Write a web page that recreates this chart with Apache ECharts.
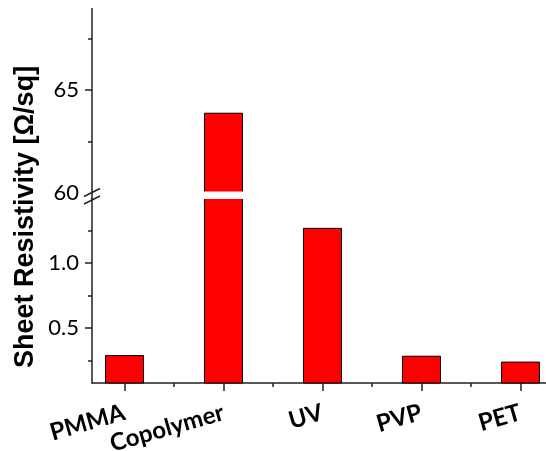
<!DOCTYPE html>
<html>
<head>
<meta charset="utf-8">
<script src="https://cdn.jsdelivr.net/npm/echarts@6/dist/echarts.min.js"></script>
<style>html,body{margin:0;padding:0;background:#fff}#c{width:546px;height:451px}</style>
</head>
<body>
<div id="c"></div>
<script>
const categories = ['PMMA', 'Copolymer', 'UV', 'PVP', 'PET'];
const resistivity = [0.29, 63.9, 1.27, 0.285, 0.24];
const upperRange = [60, 69];
const lowerRange = [0.075, 1.5];
const upperLabels = [60, 65];
const upperMajorTicks = [65];
const upperMinorTicks = [62.5, 67.5];
const lowerLabels = [0.5, 1.0];
const lowerMinorTicks = [0.25, 0.75, 1.25];
const yTitle = 'Sheet Resistivity [Ω/sq]';

const positions = categories.map((c, i) => i + 1);
const xMinorTicks = positions.slice(0, -1).map(p => p + 0.5);
const xMin = 0.672, xMax = 5.258;
const AX = '#222';

const lowerData = positions.map((p, i) => [p, resistivity[i]]);
const upperData = positions.map((p, i) => [p, resistivity[i] >= upperRange[0] ? resistivity[i] : null]);

const chart = echarts.init(document.getElementById('c'), null, {renderer: 'canvas'});
const tickFont = {fontFamily: 'Lato', fontSize: 22, color: '#000'};
const baseX = (gi) => ({type: 'value', gridIndex: gi, min: xMin, max: xMax, splitLine: {show: false}});
chart.setOption({
  animation: false,
  backgroundColor: '#fff',
  grid: [
    {left: 92, right: 0, top: 8.4, height: 184.1, outerBoundsMode: 'none', containLabel: false},
    {left: 92, right: 0, top: 198, height: 185, outerBoundsMode: 'none', containLabel: false}
  ],
  xAxis: [
    Object.assign(baseX(0), {show: false}),
    Object.assign(baseX(1), {
      position: 'bottom',
      axisLine: {show: true, lineStyle: {color: AX, width: 1.5}},
      axisTick: {show: true, customValues: positions, length: 8, inside: false, lineStyle: {color: AX, width: 1.5}},
      axisLabel: {show: true, customValues: positions, formatter: v => categories[Math.round(v) - 1],
        rotate: 16, margin: 29, fontFamily: 'Lato', fontWeight: 'bold', fontSize: 24, color: '#000'}
    }),
    Object.assign(baseX(1), {
      position: 'bottom',
      axisLine: {show: false},
      axisTick: {show: true, customValues: xMinorTicks, length: 4, lineStyle: {color: AX, width: 1.5}},
      axisLabel: {show: false}
    })
  ],
  yAxis: [
    {type: 'value', gridIndex: 0, position: 'left', min: upperRange[0], max: upperRange[1],
      splitLine: {show: false},
      axisLine: {show: true, lineStyle: {color: AX, width: 1.5}},
      axisTick: {show: true, customValues: upperMajorTicks, length: 7, lineStyle: {color: AX, width: 1.5}},
      axisLabel: Object.assign({customValues: upperLabels, margin: 13}, tickFont)},
    {type: 'value', gridIndex: 0, position: 'left', min: upperRange[0], max: upperRange[1],
      splitLine: {show: false}, axisLine: {show: false},
      axisTick: {show: true, customValues: upperMinorTicks, length: 4, lineStyle: {color: AX, width: 1.5}},
      axisLabel: {show: false}},
    {type: 'value', gridIndex: 1, position: 'left', min: lowerRange[0], max: lowerRange[1],
      splitLine: {show: false},
      axisLine: {show: true, lineStyle: {color: AX, width: 1.5}},
      axisTick: {show: true, customValues: lowerLabels, length: 7, lineStyle: {color: AX, width: 1.5}},
      axisLabel: Object.assign({customValues: lowerLabels, margin: 13, formatter: v => v.toFixed(1)}, tickFont)},
    {type: 'value', gridIndex: 1, position: 'left', min: lowerRange[0], max: lowerRange[1],
      splitLine: {show: false}, axisLine: {show: false},
      axisTick: {show: true, customValues: lowerMinorTicks, length: 4, lineStyle: {color: AX, width: 1.5}},
      axisLabel: {show: false}}
  ],
  series: [
    {type: 'bar', xAxisIndex: 0, yAxisIndex: 0, data: upperData, barWidth: 39, clip: true,
      itemStyle: {color: '#ff0000', borderColor: '#000', borderWidth: 1}},
    {type: 'bar', xAxisIndex: 1, yAxisIndex: 2, data: lowerData, barWidth: 39, clip: true,
      itemStyle: {color: '#ff0000', borderColor: '#000', borderWidth: 1}}
  ]
});

// Axis break decoration (white gap across the plot, axis bridge, slashes) and y-axis title
const pTop = chart.convertToPixel({xAxisIndex: 0, yAxisIndex: 0}, [xMin, upperRange[0]]);
const pBot = chart.convertToPixel({xAxisIndex: 1, yAxisIndex: 2}, [xMin, lowerRange[1]]);
const pRight = chart.convertToPixel({xAxisIndex: 1, yAxisIndex: 2}, [xMax, lowerRange[1]]);
const slash = (x, y) => ({type: 'line', shape: {x1: x - 8, y1: y + 4, x2: x + 8, y2: y - 4},
  style: {stroke: AX, lineWidth: 1.5}, z: 101});
chart.setOption({
  graphic: [
    {type: 'rect', shape: {x: pTop[0] + 1, y: pTop[1] - 1, width: pRight[0] - pTop[0], height: pBot[1] - pTop[1] + 2},
      style: {fill: '#fff'}, z: 100},
    {type: 'line', shape: {x1: pTop[0], y1: pTop[1] - 1, x2: pBot[0], y2: pBot[1] + 1}, style: {stroke: AX, lineWidth: 1.5}, z: 101},
    slash(pTop[0], pTop[1]),
    slash(pBot[0], pBot[1] + 2),
    {type: 'text', x: 26, y: 217, rotation: Math.PI / 2, z: 101,
      style: {text: yTitle, fontFamily: 'Liberation Sans', fontWeight: 'bold', fontSize: 27, fill: '#000',
        align: 'center', verticalAlign: 'middle'}}
  ]
});
</script>
</body>
</html>
